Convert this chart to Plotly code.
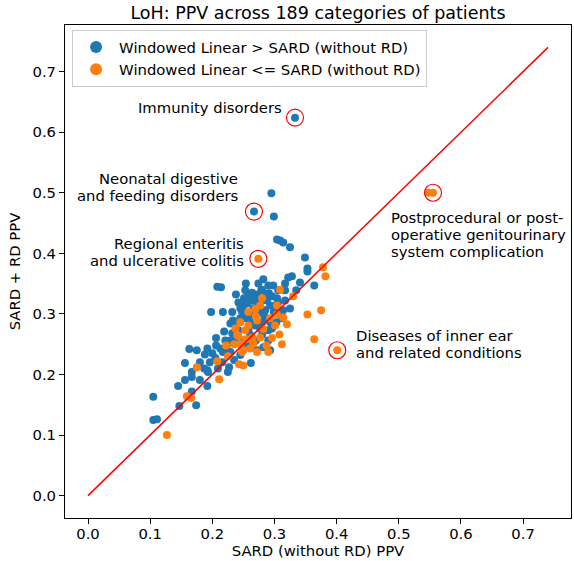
import plotly.graph_objects as go

# Data
blue_x = [0.333, 0.267, 0.295, 0.299, 0.304, 0.309, 0.314, 0.325, 0.349, 0.353,
          0.353, 0.364, 0.328, 0.322, 0.282, 0.298, 0.279, 0.287, 0.304, 0.266,
          0.208, 0.214, 0.254, 0.238, 0.198, 0.217, 0.245, 0.250, 0.256, 0.229,
          0.233, 0.219, 0.206, 0.225, 0.213, 0.217, 0.224, 0.163, 0.175, 0.188,
          0.200, 0.156, 0.187, 0.192, 0.193, 0.227, 0.167, 0.167, 0.145, 0.192,
          0.167, 0.105, 0.147, 0.174, 0.105, 0.111, 0.290, 0.262, 0.280, 0.291,
          0.264, 0.269, 0.306, 0.312, 0.280, 0.250, 0.282, 0.192, 0.206, 0.229,
          0.274, 0.277, 0.285, 0.293, 0.261, 0.253, 0.269, 0.277, 0.258, 0.242,
          0.237, 0.285, 0.293, 0.299, 0.296, 0.280, 0.266, 0.248, 0.232, 0.221,
          0.205, 0.216, 0.196, 0.180, 0.270, 0.261, 0.290, 0.303, 0.317, 0.325,
          0.314, 0.341, 0.335, 0.245, 0.235, 0.256, 0.272, 0.293, 0.225, 0.156,
          0.180, 0.209, 0.253, 0.264, 0.274, 0.290, 0.306, 0.301, 0.280, 0.288,
          0.309, 0.317, 0.251, 0.242, 0.232, 0.238, 0.261, 0.283, 0.296, 0.272,
          0.258, 0.317, 0.245, 0.229]
blue_y = [0.624, 0.469, 0.499, 0.461, 0.423, 0.421, 0.418, 0.410, 0.393, 0.375,
          0.370, 0.347, 0.362, 0.360, 0.357, 0.347, 0.340, 0.331, 0.326, 0.322,
          0.345, 0.344, 0.350, 0.332, 0.303, 0.303, 0.309, 0.314, 0.317, 0.284,
          0.289, 0.271, 0.260, 0.251, 0.243, 0.237, 0.240, 0.242, 0.240, 0.233,
          0.235, 0.219, 0.210, 0.207, 0.204, 0.212, 0.204, 0.196, 0.181, 0.181,
          0.172, 0.163, 0.148, 0.149, 0.125, 0.126, 0.256, 0.219, 0.339, 0.334,
          0.322, 0.322, 0.319, 0.293, 0.265, 0.256, 0.245, 0.243, 0.248, 0.237,
          0.314, 0.303, 0.293, 0.286, 0.298, 0.293, 0.281, 0.276, 0.273, 0.273,
          0.260, 0.306, 0.314, 0.303, 0.276, 0.286, 0.309, 0.303, 0.268, 0.256,
          0.227, 0.220, 0.220, 0.191, 0.256, 0.265, 0.273, 0.286, 0.322, 0.309,
          0.306, 0.352, 0.339, 0.232, 0.224, 0.248, 0.240, 0.240, 0.204, 0.191,
          0.220, 0.210, 0.339, 0.335, 0.350, 0.347, 0.339, 0.314, 0.322, 0.322,
          0.303, 0.339, 0.326, 0.319, 0.303, 0.286, 0.286, 0.298, 0.329, 0.332,
          0.329, 0.350, 0.293, 0.256]

orange_x = [0.274, 0.547, 0.555, 0.401, 0.378, 0.382, 0.309, 0.330, 0.353, 0.375,
            0.314, 0.320, 0.269, 0.270, 0.308, 0.364, 0.312, 0.272, 0.245, 0.258,
            0.240, 0.235, 0.245, 0.254, 0.248, 0.208, 0.175, 0.243, 0.250, 0.211,
            0.159, 0.166, 0.127, 0.304, 0.304, 0.272, 0.282, 0.242, 0.266, 0.261,
            0.277, 0.264, 0.250, 0.280, 0.293, 0.287, 0.258, 0.237, 0.301, 0.253,
            0.225, 0.277, 0.296, 0.290, 0.222]
orange_y = [0.391, 0.500, 0.500, 0.240, 0.377, 0.362, 0.340, 0.329, 0.299, 0.306,
            0.294, 0.283, 0.308, 0.296, 0.266, 0.258, 0.250, 0.237, 0.286, 0.281,
            0.265, 0.250, 0.250, 0.258, 0.237, 0.222, 0.212, 0.217, 0.215, 0.192,
            0.164, 0.161, 0.100, 0.314, 0.299, 0.289, 0.275, 0.263, 0.251, 0.243,
            0.261, 0.261, 0.240, 0.326, 0.293, 0.248, 0.303, 0.276, 0.281, 0.273,
            0.230, 0.314, 0.260, 0.237, 0.248]

diag = [0.0, 0.74]

# Highlighted categories (each label given as its lines)
hl_labels = [["Immunity disorders"],
             ["Neonatal digestive", "and feeding disorders"],
             ["Regional enteritis", "and ulcerative colitis"],
             ["Postprocedural or post-", "operative genitourinary", "system complication"],
             ["Diseases of inner ear", "and related conditions"]]
hl_x = [0.333, 0.267, 0.274, 0.555, 0.401]
hl_y = [0.624, 0.469, 0.391, 0.500, 0.240]

FONT = "DejaVu Sans"
FS = 14.8
BLUE = "#1f77b4"
ORANGE = "#ff7f0e"

fig = go.Figure()
fig.add_trace(go.Scatter(x=blue_x, y=blue_y, mode="markers",
                         name="Windowed Linear > SARD (without RD)",
                         marker=dict(color=BLUE, size=8, line=dict(width=0))))
fig.add_trace(go.Scatter(x=orange_x, y=orange_y, mode="markers",
                         name="Windowed Linear <= SARD (without RD)",
                         marker=dict(color=ORANGE, size=8, line=dict(width=0))))
fig.add_trace(go.Scatter(x=diag, y=diag, mode="lines", showlegend=False,
                         line=dict(color="red", width=1.5), hoverinfo="skip"))
fig.add_trace(go.Scatter(x=hl_x, y=hl_y, mode="markers", showlegend=False,
                         marker=dict(symbol="circle-open", size=17, color="red",
                                     line=dict(width=1.2, color="red")),
                         hoverinfo="skip"))

# label placement: (xanchor, xshift, yshift of first line) in px relative to point
ann_style = [
    ("right", -11, 10),
    ("right", -14, 33),
    ("right", -12, 15),
    ("left", -44, -25),
    ("left", 17, 15),
]
LINE_H = 17
for lines, x, y, (xa, xs, ys) in zip(hl_labels, hl_x, hl_y, ann_style):
    for i, line in enumerate(lines):
        fig.add_annotation(x=x, y=y, text=line, showarrow=False, yanchor="middle",
                           xanchor=xa, align=xa, xshift=xs, yshift=ys - i * LINE_H,
                           font=dict(family=FONT, size=FS, color="black"))

axis_common = dict(
    range=[-0.037, 0.777], tickmode="array",
    tickvals=[0.0, 0.1, 0.2, 0.3, 0.4, 0.5, 0.6, 0.7],
    ticktext=["0.0", "0.1", "0.2", "0.3", "0.4", "0.5", "0.6", "0.7"],
    showgrid=False, zeroline=False, showline=True, mirror=True,
    linecolor="black", linewidth=1, ticks="outside", ticklen=5, tickwidth=1,
    tickcolor="black", tickfont=dict(family=FONT, size=FS, color="black"),
)

fig.update_layout(
    width=574, height=561,
    margin=dict(l=65, r=3, t=25, b=43, autoexpand=False),
    paper_bgcolor="white", plot_bgcolor="white",
    title=dict(text="LoH: PPV across 189 categories of patients",
               x=(65 + 571) / 2 / 574, xanchor="center", y=1 - 13 / 561, yanchor="middle",
               font=dict(family=FONT, size=17.5, color="black")),
    xaxis=dict(title=dict(text="SARD (without RD) PPV", standoff=4,
                          font=dict(family=FONT, size=FS, color="black")),
               **axis_common),
    yaxis=dict(title=dict(text="SARD + RD PPV", standoff=8,
                          font=dict(family=FONT, size=FS, color="black")),
               **axis_common),
    legend=dict(x=0.014, y=0.99, xanchor="left", yanchor="top",
                bgcolor="rgba(255,255,255,0.8)", bordercolor="#cccccc", borderwidth=1,
                font=dict(family=FONT, size=FS, color="black"),
                itemsizing="constant", itemwidth=36),
    showlegend=True,
)
fig.update_xaxes(ticklabelstandoff=-3)

fig.write_html("out.html", config={"displayModeBar": False},
               post_script="document.body.style.margin='0';document.body.style.overflow='hidden';")
